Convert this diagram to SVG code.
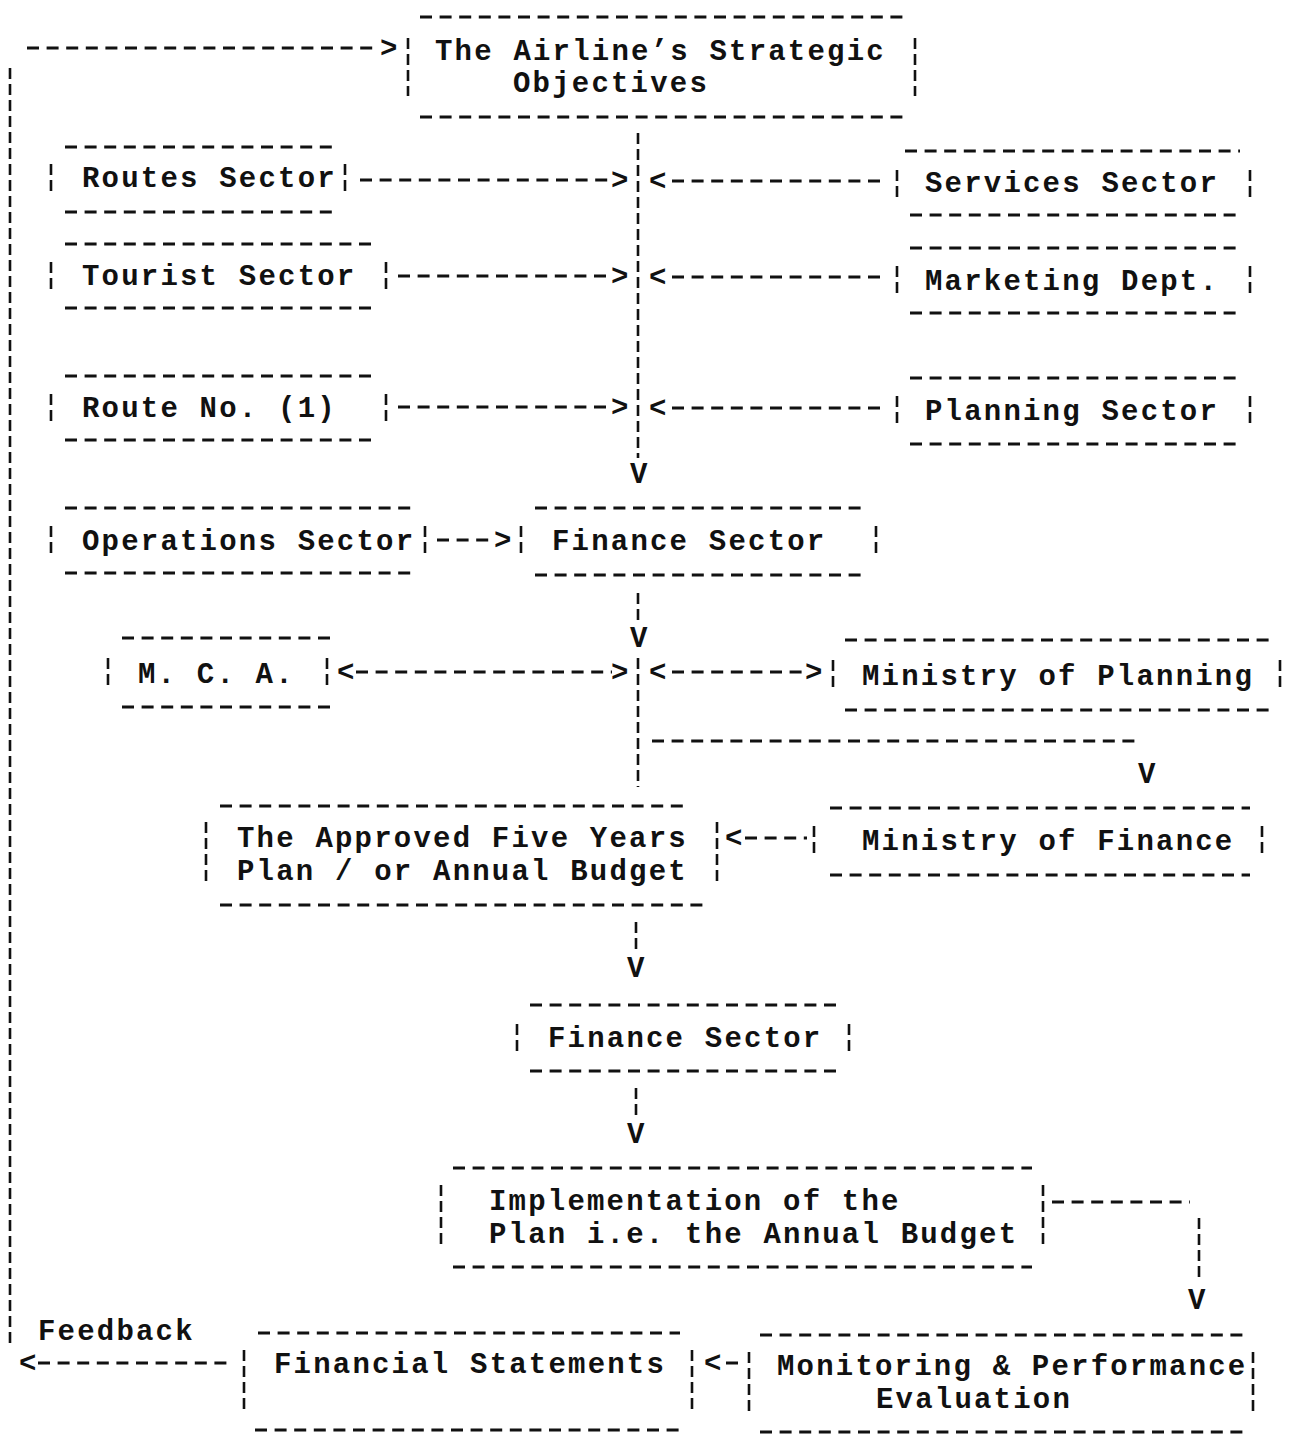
<svg xmlns="http://www.w3.org/2000/svg" width="1289" height="1434" viewBox="0 0 1289 1434">
  <style>
    .t { font-family: "Liberation Mono", "Courier New", monospace; font-size: 29px; font-weight: bold; letter-spacing: 2.2px; fill: #111; }
    .h { stroke: #111; stroke-width: 3; stroke-dasharray: 12 7.6; fill: none; }
    .v { stroke: #111; stroke-width: 2.6; stroke-dasharray: 11 5; fill: none; }
  </style>
  <rect width="1289" height="1434" fill="#fff"/>

  <!-- boxes: dashed top/bottom rules, broken-bar sides, typed labels -->
  <g id="objectives">
    <line class="h" x1="420" y1="17" x2="905" y2="17"/>
    <line class="h" x1="420" y1="117" x2="905" y2="117"/>
    <line class="v" x1="408" y1="38" x2="408" y2="96"/>
    <line class="v" x1="915" y1="38" x2="915" y2="96"/>
    <text class="t" x="435" y="60">The Airline’s Strategic</text>
    <text class="t" x="513" y="92">Objectives</text>
  </g>
  <g id="routes-sector">
    <line class="h" x1="65" y1="147" x2="337" y2="147"/>
    <line class="h" x1="65" y1="212" x2="337" y2="212"/>
    <line class="v" x1="51" y1="164" x2="51" y2="192"/>
    <line class="v" x1="345" y1="164" x2="345" y2="192"/>
    <text class="t" x="82" y="187">Routes Sector</text>
  </g>
  <g id="services-sector">
    <line class="h" x1="905" y1="151" x2="1240" y2="151"/>
    <line class="h" x1="910" y1="215" x2="1240" y2="215"/>
    <line class="v" x1="897" y1="170" x2="897" y2="197"/>
    <line class="v" x1="1250" y1="170" x2="1250" y2="197"/>
    <text class="t" x="925" y="192">Services Sector</text>
  </g>
  <g id="tourist-sector">
    <line class="h" x1="65" y1="244" x2="378" y2="244"/>
    <line class="h" x1="65" y1="308" x2="378" y2="308"/>
    <line class="v" x1="51" y1="262" x2="51" y2="290"/>
    <line class="v" x1="386" y1="262" x2="386" y2="290"/>
    <text class="t" x="82" y="285">Tourist Sector</text>
  </g>
  <g id="marketing-dept">
    <line class="h" x1="910" y1="248" x2="1240" y2="248"/>
    <line class="h" x1="910" y1="313" x2="1240" y2="313"/>
    <line class="v" x1="897" y1="266" x2="897" y2="294"/>
    <line class="v" x1="1250" y1="266" x2="1250" y2="294"/>
    <text class="t" x="925" y="290">Marketing Dept.</text>
  </g>
  <g id="route-no-1">
    <line class="h" x1="65" y1="376" x2="378" y2="376"/>
    <line class="h" x1="65" y1="440" x2="378" y2="440"/>
    <line class="v" x1="51" y1="394" x2="51" y2="422"/>
    <line class="v" x1="386" y1="394" x2="386" y2="422"/>
    <text class="t" x="82" y="417">Route No. (1)</text>
  </g>
  <g id="planning-sector">
    <line class="h" x1="910" y1="378" x2="1240" y2="378"/>
    <line class="h" x1="910" y1="444" x2="1240" y2="444"/>
    <line class="v" x1="897" y1="396" x2="897" y2="424"/>
    <line class="v" x1="1250" y1="396" x2="1250" y2="424"/>
    <text class="t" x="925" y="420">Planning Sector</text>
  </g>
  <g id="operations-sector">
    <line class="h" x1="65" y1="508" x2="413" y2="508"/>
    <line class="h" x1="65" y1="573" x2="413" y2="573"/>
    <line class="v" x1="51" y1="526" x2="51" y2="554"/>
    <line class="v" x1="425" y1="526" x2="425" y2="554"/>
    <text class="t" x="82" y="550">Operations Sector</text>
  </g>
  <g id="finance-sector-1">
    <line class="h" x1="535" y1="508" x2="862" y2="508"/>
    <line class="h" x1="535" y1="575" x2="862" y2="575"/>
    <line class="v" x1="521" y1="526" x2="521" y2="554"/>
    <line class="v" x1="876" y1="526" x2="876" y2="554"/>
    <text class="t" x="552" y="550">Finance Sector</text>
  </g>
  <g id="mca">
    <line class="h" x1="122" y1="638" x2="335" y2="638"/>
    <line class="h" x1="122" y1="707" x2="335" y2="707"/>
    <line class="v" x1="108" y1="658" x2="108" y2="686"/>
    <line class="v" x1="327" y1="658" x2="327" y2="686"/>
    <text class="t" x="138" y="683">M. C. A.</text>
  </g>
  <g id="ministry-of-planning">
    <line class="h" x1="845" y1="640" x2="1272" y2="640"/>
    <line class="h" x1="845" y1="710" x2="1272" y2="710"/>
    <line class="v" x1="833" y1="660" x2="833" y2="688"/>
    <line class="v" x1="1280" y1="660" x2="1280" y2="688"/>
    <text class="t" x="862" y="685">Ministry of Planning</text>
  </g>
  <g id="approved-plan">
    <line class="h" x1="220" y1="806" x2="685" y2="806"/>
    <line class="h" x1="220" y1="905" x2="704" y2="905"/>
    <line class="v" x1="206" y1="822" x2="206" y2="886"/>
    <line class="v" x1="717" y1="822" x2="717" y2="886"/>
    <text class="t" x="237" y="847">The Approved Five Years</text>
    <text class="t" x="237" y="880">Plan / or Annual Budget</text>
  </g>
  <g id="ministry-of-finance">
    <line class="h" x1="830" y1="808" x2="1250" y2="808"/>
    <line class="h" x1="830" y1="875" x2="1250" y2="875"/>
    <line class="v" x1="814" y1="826" x2="814" y2="854"/>
    <line class="v" x1="1262" y1="826" x2="1262" y2="854"/>
    <text class="t" x="862" y="850">Ministry of Finance</text>
  </g>
  <g id="finance-sector-2">
    <line class="h" x1="530" y1="1005" x2="838" y2="1005"/>
    <line class="h" x1="530" y1="1071" x2="838" y2="1071"/>
    <line class="v" x1="517" y1="1024" x2="517" y2="1052"/>
    <line class="v" x1="849" y1="1024" x2="849" y2="1052"/>
    <text class="t" x="548" y="1047">Finance Sector</text>
  </g>
  <g id="implementation">
    <line class="h" x1="453" y1="1168" x2="1032" y2="1168"/>
    <line class="h" x1="453" y1="1267" x2="1032" y2="1267"/>
    <line class="v" x1="441" y1="1185" x2="441" y2="1246"/>
    <line class="v" x1="1043" y1="1185" x2="1043" y2="1246"/>
    <text class="t" x="489" y="1210">Implementation of the</text>
    <text class="t" x="489" y="1243">Plan i.e. the Annual Budget</text>
  </g>
  <g id="financial-statements">
    <line class="h" x1="258" y1="1333" x2="680" y2="1333"/>
    <line class="h" x1="255" y1="1430" x2="680" y2="1430"/>
    <line class="v" x1="244" y1="1350" x2="244" y2="1412"/>
    <line class="v" x1="692" y1="1350" x2="692" y2="1412"/>
    <text class="t" x="274" y="1373">Financial Statements</text>
  </g>
  <g id="monitoring">
    <line class="h" x1="760" y1="1335" x2="1245" y2="1335"/>
    <line class="h" x1="760" y1="1432" x2="1245" y2="1432"/>
    <line class="v" x1="749" y1="1352" x2="749" y2="1412"/>
    <line class="v" x1="1253" y1="1352" x2="1253" y2="1412"/>
    <text class="t" x="777" y="1375">Monitoring &amp; Performance</text>
    <text class="t" x="876" y="1408">Evaluation</text>
  </g>

  <!-- connectors: dashed runs with typed arrow heads -->
  <g id="connectors">
    <!-- feedback loop -->
    <line class="h" x1="27" y1="48" x2="377" y2="48"/>
    <text class="t" x="380" y="57">&gt;</text>
    <line class="v" x1="10" y1="68" x2="10" y2="1345"/>
    <text class="t" x="38" y="1340">Feedback</text>
    <text class="t" x="19" y="1372">&lt;</text>
    <line class="h" x1="38" y1="1363" x2="232" y2="1363"/>

    <!-- central spine -->
    <line class="v" x1="638" y1="133" x2="638" y2="458"/>
    <text class="t" x="630" y="483">V</text>

    <line class="h" x1="360" y1="180" x2="612" y2="180"/>
    <text class="t" x="611" y="189">&gt;</text>
    <text class="t" x="649" y="190">&lt;</text>
    <line class="h" x1="672" y1="181" x2="887" y2="181"/>

    <line class="h" x1="398" y1="276" x2="612" y2="276"/>
    <text class="t" x="611" y="285">&gt;</text>
    <text class="t" x="649" y="286">&lt;</text>
    <line class="h" x1="672" y1="277" x2="887" y2="277"/>

    <line class="h" x1="398" y1="407" x2="612" y2="407"/>
    <text class="t" x="611" y="416">&gt;</text>
    <text class="t" x="649" y="417">&lt;</text>
    <line class="h" x1="672" y1="408" x2="887" y2="408"/>

    <!-- operations into finance -->
    <line class="h" x1="437" y1="540" x2="494" y2="540"/>
    <text class="t" x="494" y="549">&gt;</text>

    <!-- finance down to the ministries -->
    <line class="v" x1="638" y1="593" x2="638" y2="622"/>
    <text class="t" x="630" y="647">V</text>

    <text class="t" x="337" y="681">&lt;</text>
    <line class="h" x1="356" y1="672" x2="612" y2="672"/>
    <text class="t" x="611" y="681">&gt;</text>
    <text class="t" x="649" y="681">&lt;</text>
    <line class="h" x1="672" y1="672" x2="806" y2="672"/>
    <text class="t" x="805" y="681">&gt;</text>

    <line class="v" x1="638" y1="658" x2="638" y2="787"/>
    <line class="h" x1="652" y1="741" x2="1137" y2="741"/>
    <text class="t" x="1138" y="783">V</text>

    <!-- ministry of finance into the approved plan -->
    <text class="t" x="725" y="847">&lt;</text>
    <line class="h" x1="745" y1="838" x2="807" y2="838"/>

    <line class="v" x1="636" y1="922" x2="636" y2="952"/>
    <text class="t" x="627" y="977">V</text>

    <line class="v" x1="636" y1="1088" x2="636" y2="1118"/>
    <text class="t" x="627" y="1143">V</text>

    <!-- implementation to monitoring -->
    <line class="h" x1="1052" y1="1202" x2="1190" y2="1202"/>
    <line class="v" x1="1199" y1="1218" x2="1199" y2="1282"/>
    <text class="t" x="1188" y="1309">V</text>

    <!-- monitoring back to statements -->
    <text class="t" x="704" y="1372">&lt;</text>
    <line class="h" x1="726" y1="1363" x2="740" y2="1363"/>
  </g>
</svg>
